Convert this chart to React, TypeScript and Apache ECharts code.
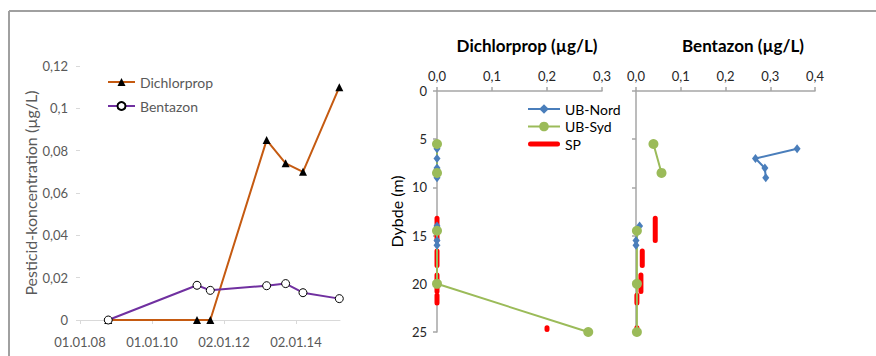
import React, { useEffect, useRef } from "react";
import * as echarts from "echarts";

// ---- Left panel: time series ----
const sampleDates = ["14.10.08", "03.04.11", "16.08.11", "10.03.13", "19.09.13", "14.03.14", "18.03.15"];
const dichlorpropTime = [0, 0, 0, 0.085, 0.074, 0.07, 0.11];
const bentazonTime = [0, 0.0164, 0.014, 0.0162, 0.0172, 0.0129, 0.0101];
const timeTickLabels = ["01.01.08", "01.01.10", "02.01.12", "02.01.14"];
const timeTickStepDays = 731;
const timeAxisMaxDays = 2640;

// ---- Depth profiles ----
const nordDepth = [6, 7, 8, 9, null, 14, 15.5, 16];
const nordDichlorprop = [0, 0, 0, 0, null, 0, 0, 0];
const nordBentazon = [0.36, 0.267, 0.288, 0.29, null, 0.008, 0, 0];

const sydDepth = [5.5, 8.5, null, 14.5, 20, 25];
const sydDichlorprop = [0, 0, null, 0, 0, 0.275];
const sydBentazon = [0.039, 0.057, null, 0.002, 0.002, 0.002];

const spTop = [13.2, 16.6, 19.1, 21.2, 24.55];
const spBottom = [15.5, 18.1, 20.8, 22.0, 24.75];
const spDichlorprop = [0, 0, 0, 0, 0.2];
const spBentazon = [0.043, 0.014, 0.011, 0.002, 0.002];

const FONT = "Lato, 'Open Sans', sans-serif";

function daysSinceOrigin(s: string): number {
  const [d, m, y] = s.split(".").map(Number);
  const origin = Date.UTC(2008, 0, 1);
  return Math.round((Date.UTC(2000 + y, m - 1, d) - origin) / 86400000);
}

function profile(xs: (number | null)[], ds: (number | null)[]) {
  return xs.map((x, i) => (x == null || ds[i] == null ? [NaN, NaN] : [x, ds[i] as number]));
}

function spSegments(xs: number[]) {
  const out: number[][] = [];
  xs.forEach((x, i) => {
    out.push([x, spTop[i]], [x, spBottom[i]], [NaN, NaN]);
  });
  return out;
}

const comma1 = (v: number) => v.toFixed(1).replace(".", ",");
const commaAuto = (v: number) => String(Number(v.toFixed(3))).replace(".", ",");

export default function App() {
  const ref = useRef<HTMLDivElement>(null);
  useEffect(() => {
    if (!ref.current) return;
    const chart = echarts.init(ref.current, undefined, { renderer: "svg" });
    const depthAxisLine = { show: true, onZero: false, lineStyle: { color: "#A6A6A6", width: 1.5 } };
    const depthTick = { show: true, inside: false, length: 4, lineStyle: { color: "#A6A6A6", width: 1.5 } };

    const nordStyle = {
      type: "line",
      name: "UB-Nord",
      symbol: "diamond",
      symbolSize: [7, 9],
      lineStyle: { color: "#4A7EBB", width: 2 },
      itemStyle: { color: "#4A7EBB" },
      connectNulls: false,
    };
    const sydStyle = {
      type: "line",
      name: "UB-Syd",
      symbol: "circle",
      symbolSize: 10,
      lineStyle: { color: "#9BBB59", width: 2 },
      itemStyle: { color: "#9BBB59" },
      connectNulls: false,
    };
    const spStyle = {
      type: "line",
      name: "SP",
      symbol: "none",
      lineStyle: { color: "#FF0000", width: 5, cap: "round" },
      itemStyle: { color: "#FF0000" },
      connectNulls: false,
    };

    chart.setOption({
      animation: false,
      textStyle: { fontFamily: FONT },
      grid: [
        { left: 80, top: 66, width: 260, height: 254, outerBoundsMode: "none" },
        { left: 437, top: 91, width: 165, height: 241, outerBoundsMode: "none" },
        { left: 636, top: 91, width: 179, height: 241, outerBoundsMode: "none" },
      ],
      xAxis: [
        {
          type: "value",
          gridIndex: 0,
          min: 0,
          max: timeAxisMaxDays,
          interval: timeTickStepDays,
          axisLine: { show: true, onZero: false, lineStyle: { color: "#D9D9D9", width: 1 } },
          axisTick: { show: true, length: 4, lineStyle: { color: "#D9D9D9" } },
          axisLabel: {
            color: "#595959",
            fontSize: 13,
            fontFamily: FONT,
            margin: 15,
            showMaxLabel: false,
            formatter: (v: number) =>
              v % timeTickStepDays === 0 ? timeTickLabels[v / timeTickStepDays] ?? "" : "",
          },
          splitLine: { show: false },
        },
        {
          type: "value",
          gridIndex: 1,
          position: "top",
          min: 0,
          max: 0.3,
          interval: 0.1,
          axisLine: depthAxisLine,
          axisTick: depthTick,
          axisLabel: { color: "#262626", fontSize: 13, fontFamily: FONT, margin: 9, formatter: comma1 },
          splitLine: { show: false },
        },
        {
          type: "value",
          gridIndex: 2,
          position: "top",
          min: 0,
          max: 0.4,
          interval: 0.1,
          axisLine: depthAxisLine,
          axisTick: depthTick,
          axisLabel: { color: "#262626", fontSize: 13, fontFamily: FONT, margin: 9, formatter: comma1 },
          splitLine: { show: false },
        },
      ],
      yAxis: [
        {
          type: "value",
          gridIndex: 0,
          min: 0,
          max: 0.12,
          interval: 0.02,
          axisLine: { show: false },
          axisTick: { show: true, length: 4, lineStyle: { color: "#D9D9D9" } },
          axisLabel: { color: "#595959", fontSize: 13, fontFamily: FONT, margin: 12, formatter: commaAuto },
          splitLine: { show: false },
          name: "Pesticid-koncentration (µg/L)",
          nameLocation: "middle",
          nameGap: 40,
          nameTextStyle: { color: "#595959", fontSize: 16, fontFamily: FONT },
        },
        {
          type: "value",
          gridIndex: 1,
          inverse: true,
          min: 0,
          max: 25,
          interval: 5,
          axisLine: depthAxisLine,
          axisTick: depthTick,
          axisLabel: { color: "#262626", fontSize: 13, fontFamily: FONT, margin: 10 },
          splitLine: { show: false },
          name: "Dybde (m)",
          nameLocation: "middle",
          nameGap: 33,
          nameTextStyle: { color: "#000", fontSize: 16, fontFamily: FONT },
        },
        {
          type: "value",
          gridIndex: 2,
          inverse: true,
          min: 0,
          max: 25,
          interval: 5,
          axisLine: depthAxisLine,
          axisTick: depthTick,
          axisLabel: { show: false },
          splitLine: { show: false },
        },
      ],
      legend: [
        {
          data: ["Dichlorprop", "Bentazon"],
          orient: "vertical",
          left: 107,
          top: 75,
          padding: 0,
          itemWidth: 27,
          itemHeight: 10,
          itemGap: 10,
          textStyle: { color: "#595959", fontSize: 14, fontFamily: FONT },
        },
        {
          data: [
            { name: "UB-Nord" },
            { name: "UB-Syd" },
            {
              name: "SP",
              icon: "path://M2.5,0 L29.5,0 A2.5,2.5 0 0 1 29.5,5 L2.5,5 A2.5,2.5 0 0 1 2.5,0 Z",
              itemStyle: { color: "#FF0000" },
            },
          ],
          orient: "vertical",
          left: 527,
          top: 102,
          padding: 0,
          itemWidth: 32,
          itemHeight: 12,
          itemGap: 3.5,
          textStyle: { color: "#000", fontSize: 14, fontFamily: FONT },
        },
      ],
      graphic: [
        { type: "line", shape: { x1: 9, y1: 11, x2: 876, y2: 11 }, style: { stroke: "#A0A0A0", lineWidth: 2 } },
        { type: "line", shape: { x1: 9, y1: 11, x2: 9, y2: 356 }, style: { stroke: "#A0A0A0", lineWidth: 2 } },
        {
          type: "text",
          x: 527,
          y: 45,
          style: {
            text: "Dichlorprop (µg/L)",
            font: `bold 17px ${FONT}`,
            fill: "#000",
            textAlign: "center",
            textVerticalAlign: "middle",
            align: "center",
            verticalAlign: "middle",
          },
        },
        {
          type: "text",
          x: 743,
          y: 45,
          style: {
            text: "Bentazon (µg/L)",
            font: `bold 17px ${FONT}`,
            fill: "#000",
            textAlign: "center",
            textVerticalAlign: "middle",
            align: "center",
            verticalAlign: "middle",
          },
        },
      ],
      series: [
        {
          type: "line",
          name: "Dichlorprop",
          xAxisIndex: 0,
          yAxisIndex: 0,
          data: sampleDates.map((d, i) => [daysSinceOrigin(d), dichlorpropTime[i]]),
          symbol: "triangle",
          symbolSize: 8,
          lineStyle: { color: "#C55A11", width: 2 },
          itemStyle: { color: "#000" },
        },
        {
          type: "line",
          name: "Bentazon",
          xAxisIndex: 0,
          yAxisIndex: 0,
          data: sampleDates.map((d, i) => [daysSinceOrigin(d), bentazonTime[i]]),
          symbol: "circle",
          symbolSize: 8,
          lineStyle: { color: "#7030A0", width: 2 },
          itemStyle: { color: "#fff", borderColor: "#000", borderWidth: 1 },
        },
        { ...nordStyle, xAxisIndex: 1, yAxisIndex: 1, data: profile(nordDichlorprop, nordDepth) },
        { ...spStyle, xAxisIndex: 1, yAxisIndex: 1, data: spSegments(spDichlorprop) },
        { ...sydStyle, xAxisIndex: 1, yAxisIndex: 1, data: profile(sydDichlorprop, sydDepth) },
        { ...nordStyle, xAxisIndex: 2, yAxisIndex: 2, data: profile(nordBentazon, nordDepth) },
        { ...spStyle, xAxisIndex: 2, yAxisIndex: 2, data: spSegments(spBentazon) },
        { ...sydStyle, xAxisIndex: 2, yAxisIndex: 2, data: profile(sydBentazon, sydDepth) },
      ],
    });
    return () => chart.dispose();
  }, []);
  return (
    <div
      ref={ref}
      style={{ position: "fixed", left: 0, top: 0, width: 876, height: 356, background: "#fff" }}
    />
  );
}
